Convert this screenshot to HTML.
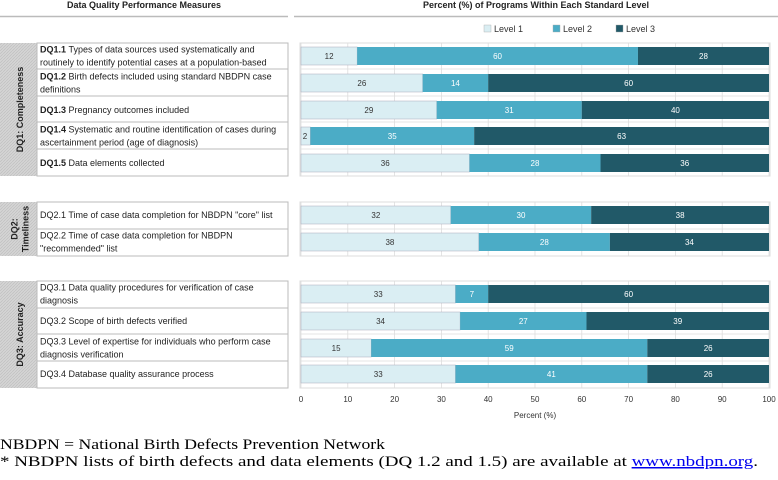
<!DOCTYPE html>
<html><head><meta charset="utf-8"><style>
body{margin:0;width:778px;height:475px;background:#fff;overflow:hidden;font-family:"Liberation Sans",sans-serif;}
svg text{font-family:"Liberation Sans",sans-serif;}
</style></head><body>
<svg id="c" width="778" height="475">
<defs><pattern id="hatch" width="3" height="3" patternUnits="userSpaceOnUse"><rect width="3" height="3" fill="#d4d4d4"/><path d="M0 3L3 0" stroke="#bdbdbd" stroke-width="0.6"/></pattern></defs>
</svg>
<script>
const categories=["DQ1.1","DQ1.2","DQ1.3","DQ1.4","DQ1.5","DQ2.1","DQ2.2","DQ3.1","DQ3.2","DQ3.3","DQ3.4"];
const level1=[12,26,29,2,36,32,38,33,34,15,33];
const level2=[60,14,31,35,28,30,28,7,27,59,41];
const level3=[28,60,40,63,36,38,34,60,39,26,26];
const ticks=[0,10,20,30,40,50,60,70,80,90,100];
const descBold=["DQ1.1","DQ1.2","DQ1.3","DQ1.4","DQ1.5","","","","","",""];
const descText=[
 ["Types of data sources used systematically and","routinely to identify potential cases at a population-based"],
 ["Birth defects included using standard NBDPN case","definitions"],
 ["Pregnancy outcomes included"],
 ["Systematic and routine identification of cases during","ascertainment period (age of diagnosis)"],
 ["Data elements collected"],
 ["DQ2.1 Time of case data completion for NBDPN \"core\" list"],
 ["DQ2.2 Time of case data completion for NBDPN","\"recommended\" list"],
 ["DQ3.1 Data quality procedures for verification of case","diagnosis"],
 ["DQ3.2 Scope of birth defects verified"],
 ["DQ3.3 Level of expertise for individuals who perform case","diagnosis verification"],
 ["DQ3.4 Database quality assurance process"]];
const rowY=[56,83,110,136,163,215,242,294,321,348,374];
const svg=document.getElementById('c');const NS="http://www.w3.org/2000/svg";
function mk(t,a,p){const e=document.createElementNS(NS,t);for(const k in a)e.setAttribute(k,a[k]);(p||svg).appendChild(e);return e;}
const x0=301,x1=769;const xs=v=>x0+(x1-x0)*v/100;
let t=mk('text',{x:144,y:8,'text-anchor':'middle','font-size':9,'font-weight':'bold',fill:'#222'});t.textContent="Data Quality Performance Measures";

t=mk('text',{x:536,y:8,'text-anchor':'middle','font-size':9,'font-weight':'bold',fill:'#222'});t.textContent="Percent (%) of Programs Within Each Standard Level";

mk('line',{x1:0,x2:288,y1:16.5,y2:16.5,stroke:'#bbb','stroke-width':1.5});
mk('line',{x1:294,x2:778,y1:16.5,y2:16.5,stroke:'#bbb','stroke-width':1.5});
const legC=['#daeef3','#4bacc6','#215968'],legN=['Level 1','Level 2','Level 3'],legX=[484,553,616];
for(let i=0;i<3;i++){const g=mk('g',{});
mk('rect',{x:legX[i],y:25,width:7,height:7,fill:legC[i],stroke:'#aaa','stroke-width':0.4},g);
const tt=mk('text',{x:legX[i]+10,y:32,'font-size':9,fill:'#333'},g);tt.textContent=legN[i];}
const panels=[[43,176,0,5,"DQ1: Completeness"],[202,256,5,7,"DQ2:|Timeliness"],[281,388,7,11,"DQ3: Accuracy"]];
const sepsAll=[[69,96,122,149],[229],[308,334,361]];
panels.forEach((p,pi)=>{const[y0,y1,a,b,lab]=p;
 mk('rect',{x:0,y:y0,width:37,height:y1-y0,fill:'url(#hatch)'});
 mk('rect',{x:37,y:y0,width:251,height:y1-y0,fill:'#fff',stroke:'#bbb','stroke-width':1});
 sepsAll[pi].forEach(s=>mk('line',{x1:37,x2:288,y1:s,y2:s,stroke:'#bbb'}));
 const parts=lab.split('|');const cy=(y0+y1)/2;
 parts.forEach((pt,k)=>{const tx=20+(k-(parts.length-1)/2)*11;const tl=mk('text',{x:tx,y:cy,'font-size':9,'font-weight':'bold',fill:'#222','text-anchor':'middle',transform:`rotate(-90 ${tx} ${cy}) translate(0 3)`});tl.textContent=pt;
 });
 mk('rect',{x:300,y:y0,width:470,height:y1-y0,fill:'#fff',stroke:'#ddd'});
 ticks.forEach(v=>mk('line',{x1:xs(v),x2:xs(v),y1:y0,y2:y1,stroke:'#ddd','stroke-width':0.8}));
 sepsAll[pi].forEach(s=>mk('line',{x1:300,x2:770,y1:s,y2:s,stroke:'#ddd','stroke-width':0.8}));
});
categories.forEach((c,i)=>{const y=rowY[i];const lines=descText[i];
 const g=mk('g',{});
 lines.forEach((ln,k)=>{const ty=y+3+(k-(lines.length-1)/2)*13;
  const tx=mk('text',{x:40,y:ty,'font-size':9,fill:'#222'},g);
  if(k===0&&descBold[i]){const b=mk('tspan',{'font-weight':'bold'},tx);b.textContent=descBold[i]+' ';}
  const s=mk('tspan',{},tx);s.textContent+=ln;});
 const vals=[level1[i],level2[i],level3[i]];let acc=0;
 vals.forEach((v,k)=>{const r=mk('rect',{x:xs(acc),y:y-9,width:xs(acc+v)-xs(acc),height:18,fill:legC[k],stroke:k===0?'#aab':'none','stroke-width':0.5});
  
  const tl=mk('text',{x:(xs(acc)+xs(acc+v))/2,y:y+3,'font-size':8,'text-anchor':'middle',fill:k===0?'#333':'#fff'});tl.textContent=v;
  if(v<4)tl.setAttribute('x',xs(acc)+4);
  acc+=v;});
});
ticks.forEach(v=>{const tl=mk('text',{x:xs(v),y:402,'font-size':8,'text-anchor':'middle',fill:'#333'});tl.textContent=v;
 });
t=mk('text',{x:535,y:418,'font-size':8,'text-anchor':'middle',fill:'#333'});t.textContent="Percent (%)";

t=mk('text',{x:0,y:449,'font-size':15,fill:'#000',textLength:385,lengthAdjust:'spacingAndGlyphs',style:'font-family:"Liberation Serif",serif'});t.textContent="NBDPN = National Birth Defects Prevention Network";

t=mk('text',{x:0,y:466,'font-size':15,fill:'#000',textLength:758,lengthAdjust:'spacingAndGlyphs',style:'font-family:"Liberation Serif",serif'});

let s1=mk('tspan',{},t);s1.textContent="* NBDPN lists of birth defects and data elements (DQ 1.2 and 1.5) are available at ";
let s2=mk('tspan',{fill:'#0000ee','text-decoration':'underline'},t);s2.textContent="www.nbdpn.org";

let s3=mk('tspan',{},t);s3.textContent=".";
</script>
</body></html>
